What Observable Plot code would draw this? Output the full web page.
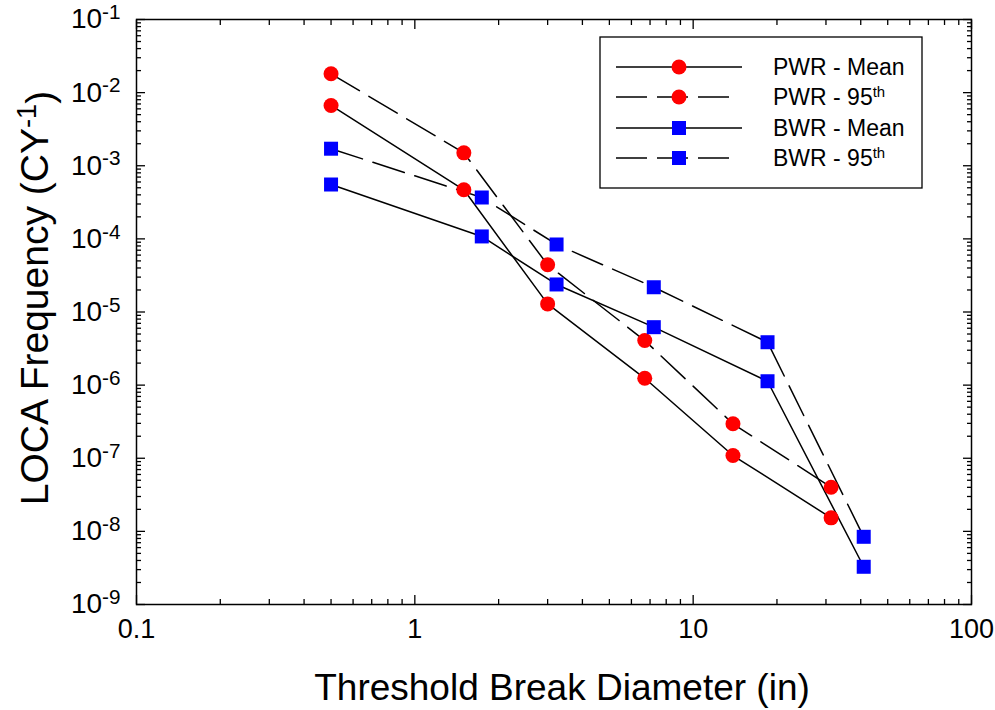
<!DOCTYPE html>
<html><head><meta charset="utf-8">
<script src="https://cdn.jsdelivr.net/npm/d3@7"></script>
<script src="https://cdn.jsdelivr.net/npm/@observablehq/plot@0.6"></script>
<style>
html,body{margin:0;padding:0;background:#fff;}
svg{font-family:"Liberation Sans",Arial,Helvetica,sans-serif;}
</style>
</head><body><div id="chart"></div>
<script>
// ---- data ----
const pwrX = [0.5, 1.5, 3, 6.7, 13.9, 31.3];
const pwrMean = [6.67e-3, 4.69e-4, 1.29e-5, 1.24e-6, 1.09e-7, 1.53e-8];
const pwr95 = [1.81e-2, 1.50e-3, 4.42e-5, 4.07e-6, 2.96e-7, 4.02e-8];
const bwrX = [0.5, 1.74, 3.23, 7.22, 18.5, 41.0];
const bwrMean = [5.54e-4, 1.08e-4, 2.38e-5, 6.2e-6, 1.13e-6, 3.28e-9];
const bwr95 = [1.71e-3, 3.68e-4, 8.38e-5, 2.18e-5, 3.86e-6, 8.43e-9];

const seriesNames = ["PWR - Mean", "PWR - 95", "BWR - Mean", "BWR - 95"];
const xTicks = [0.1, 1, 10, 100];
const xTickLabels = ["0.1", "1", "10", "100"];
const yExponents = [-9, -8, -7, -6, -5, -4, -3, -2, -1];
const xTitle = "Threshold Break Diameter (in)";
const yTitle = "LOCA Frequency (CY";

// ---- build tables ----
const rows = (xs, ys, name) => xs.map((x, i) => ({series: name, x, y: ys[i]}));
const pM = rows(pwrX, pwrMean, seriesNames[0]);
const p95 = rows(pwrX, pwr95, seriesNames[1]);
const bM = rows(bwrX, bwrMean, seriesNames[2]);
const b95 = rows(bwrX, bwr95, seriesNames[3]);

const yTicks = yExponents.map(e => Math.pow(10, e));
const minors = (majors) => {
  const out = [];
  for (let i = 0; i < majors.length - 1; i++) for (let k = 2; k <= 9; k++) out.push(majors[i] * k);
  return out;
};
const xMinor = minors(xTicks);
const yMinor = minors(yTicks);

const DASH = "33,11";
const tickOnly = {tickFormat: () => "", label: null, strokeWidth: 1.3};

const plot = Plot.plot({
  width: 995, height: 710,
  marginLeft: 136, marginRight: 24, marginTop: 19, marginBottom: 106,
  style: {fontFamily: "Liberation Sans, Arial, sans-serif", background: "white", color: "black"},
  x: {type: "log", domain: [0.1, 100]},
  y: {type: "log", domain: [1e-9, 1e-1]},
  marks: [
    Plot.line(pM, {x: "x", y: "y", stroke: "black", strokeWidth: 1.5}),
    Plot.line(p95, {x: "x", y: "y", stroke: "black", strokeWidth: 1.5, strokeDasharray: DASH}),
    Plot.line(bM, {x: "x", y: "y", stroke: "black", strokeWidth: 1.5}),
    Plot.line(b95, {x: "x", y: "y", stroke: "black", strokeWidth: 1.5, strokeDasharray: DASH}),
    Plot.dot(pM.concat(p95), {x: "x", y: "y", r: 7.5, fill: "#ff0000", stroke: null}),
    Plot.dot(bM.concat(b95), {x: "x", y: "y", r: 7.9, symbol: "square", fill: "#0000ff", stroke: null}),
    Plot.frame({stroke: "black", strokeWidth: 1.5}),
    Plot.axisX(xTicks, {anchor: "bottom", tickSize: 9, ...tickOnly}),
    Plot.axisX(xMinor, {anchor: "bottom", tickSize: 5, ...tickOnly}),
    Plot.axisX(xTicks, {anchor: "top", tickSize: 9, ...tickOnly}),
    Plot.axisX(xMinor, {anchor: "top", tickSize: 5, ...tickOnly}),
    Plot.axisY(yTicks, {anchor: "left", tickSize: 9, ...tickOnly}),
    Plot.axisY(yMinor, {anchor: "left", tickSize: 5, ...tickOnly}),
    Plot.axisY(yTicks, {anchor: "right", tickSize: 9, ...tickOnly}),
    Plot.axisY(yMinor, {anchor: "right", tickSize: 5, ...tickOnly}),
    Plot.axisX(xTicks, {anchor: "bottom", tickSize: 0, tickPadding: 14, fontSize: 27,
      tickFormat: d => xTickLabels[xTicks.indexOf(d)], label: null}),
    Plot.axisY(yTicks, {anchor: "left", tickSize: 0, tickPadding: 16, fontSize: 28,
      tickFormat: d => "10^" + Math.round(Math.log10(d)), label: null})
  ]
});

const svg = d3.select(plot);
// turn ticks inward
svg.selectAll('g[aria-label$="-axis tick"] path').attr("d", function () {
  const d = this.getAttribute("d") || "";
  return d.replace(/L(-?[\d.e]+),(-?[\d.e]+)/, (m, a, b) => `L${-a},${-b}`);
});
// superscripts on y tick labels
svg.selectAll('g[aria-label="y-axis tick label"] text').each(function () {
  const t = this.textContent;
  if (!t || t.indexOf("^") < 0) return;
  const [base, exp] = t.split("^");
  const s = d3.select(this);
  s.text(null);
  s.append("tspan").text(base);
  s.append("tspan").attr("dy", "-0.45em").attr("font-size", "0.74em").text(exp);
});

// axis titles
svg.append("text")
  .attr("x", 562).attr("y", 700)
  .attr("text-anchor", "middle").attr("font-size", 37).attr("fill", "black")
  .text(xTitle);
const yt = svg.append("text")
  .attr("transform", "translate(48,298) rotate(-90)")
  .attr("text-anchor", "middle").attr("font-size", 39).attr("fill", "black");
yt.append("tspan").text(yTitle);
yt.append("tspan").attr("dy", "-0.45em").attr("font-size", "0.7em").text("-1");
yt.append("tspan").attr("dy", "0.45em").text(")");

// legend
const lg = svg.append("g").attr("aria-label", "legend").attr("text-anchor", "start");
lg.append("rect").attr("x", 600).attr("y", 37).attr("width", 322).attr("height", 151)
  .attr("fill", "white").attr("stroke", "black").attr("stroke-width", 1.3);
const legendItems = [
  {name: seriesNames[0], dash: null, shape: "circle", color: "#ff0000"},
  {name: seriesNames[1], dash: "31,10", shape: "circle", color: "#ff0000"},
  {name: seriesNames[2], dash: null, shape: "square", color: "#0000ff"},
  {name: seriesNames[3], dash: "31,10", shape: "square", color: "#0000ff"}
];
const rowY = [67, 97, 128, 158];
legendItems.forEach((it, i) => {
  const y = rowY[i];
  const ln = lg.append("line").attr("x1", 616).attr("x2", it.dash ? 731 : 742)
    .attr("y1", y).attr("y2", y).attr("stroke", "black").attr("stroke-width", 1.5);
  if (it.dash) ln.attr("stroke-dasharray", it.dash);
  if (it.shape === "circle") lg.append("circle").attr("cx", 679).attr("cy", y).attr("r", 7.5).attr("fill", it.color);
  else lg.append("rect").attr("x", 672).attr("y", y - 7).attr("width", 14).attr("height", 14).attr("fill", it.color);
  const tx = lg.append("text").attr("x", 773).attr("y", y + 8).attr("font-size", 23)
    .attr("text-anchor", "start").attr("fill", "black");
  if (it.name.endsWith("95")) {
    tx.append("tspan").text(it.name);
    tx.append("tspan").attr("dy", "-0.55em").attr("font-size", "0.65em").text("th");
  } else tx.text(it.name);
});

document.getElementById("chart").appendChild(plot);
</script>
</body></html>
